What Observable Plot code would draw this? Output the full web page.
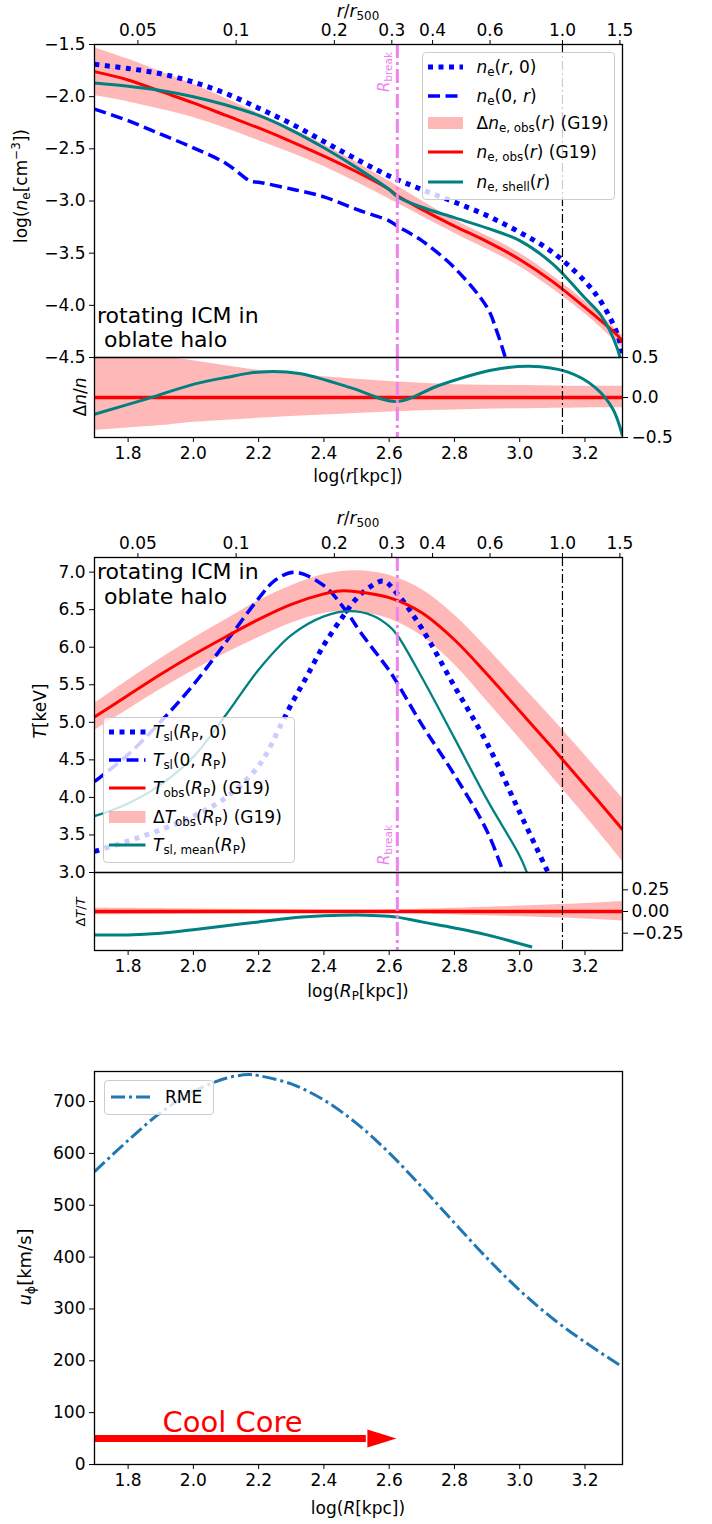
<!DOCTYPE html>
<html><head><meta charset="utf-8">
<script src="https://cdn.jsdelivr.net/npm/d3@7"></script>
<script src="https://cdn.jsdelivr.net/npm/@observablehq/plot@0.6"></script>
<style>
html,body{margin:0;padding:0;background:#fff;}
#fig{position:relative;width:712px;height:1524px;overflow:hidden;font-family:"DejaVu Sans",sans-serif;color:#000;}
#fig svg{position:absolute;left:0;overflow:visible;}
.lab{position:absolute;white-space:nowrap;line-height:1;font-family:"DejaVu Sans",sans-serif;}
.lab sub{font-size:70%;vertical-align:-0.3em;line-height:0;}
.lab sup{font-size:70%;vertical-align:0.55em;line-height:0;}
.lab i{font-style:italic;}
.box{position:absolute;background:rgba(255,255,255,0.8);border:1px solid #cccccc;border-radius:4px;box-sizing:border-box;}
.hd{position:absolute;}
</style></head>
<body><div id="fig"></div>
<script>
// ---------------- data ----------------
const xDomain = [1.697, 3.315];
const logR500 = 3.131;
const rBreak = 2.625;
const topTickValues = [0.05, 0.1, 0.2, 0.3, 0.4, 0.6, 1.0, 1.5];
const topTickLabels = ["0.05", "0.1", "0.2", "0.3", "0.4", "0.6", "1.0", "1.5"];
const bottomTicks = [1.8, 2.0, 2.2, 2.4, 2.6, 2.8, 3.0, 3.2];

// Panel 1: log n_e
const neTicks = [-4.5, -4.0, -3.5, -3.0, -2.5, -2.0, -1.5];
const neR0X = [1.697, 1.8, 1.9, 2.0, 2.1, 2.2, 2.3, 2.4, 2.5, 2.6, 2.7, 2.8, 2.9, 3.0, 3.1, 3.2, 3.25, 3.3, 3.315];
const neR0Y = [-1.69, -1.73, -1.78, -1.86, -1.97, -2.11, -2.26, -2.43, -2.60, -2.76, -2.89, -3.01, -3.14, -3.30, -3.49, -3.77, -3.97, -4.28, -4.48];
const ne0rX = [1.697, 1.8, 1.9, 2.0, 2.1, 2.175, 2.2, 2.3, 2.4, 2.5, 2.6, 2.625, 2.7, 2.8, 2.9, 2.93, 2.956];
const ne0rY = [-2.12, -2.23, -2.36, -2.49, -2.64, -2.81, -2.82, -2.885, -2.96, -3.08, -3.19, -3.24, -3.38, -3.64, -4.02, -4.25, -4.5];
const neObsX = [1.697, 1.8, 1.9, 2.0, 2.1, 2.2, 2.3, 2.4, 2.5, 2.6, 2.625, 2.7, 2.8, 2.9, 3.0, 3.1, 3.2, 3.3, 3.315];
const neObsY = [-1.76, -1.84, -1.95, -2.06, -2.18, -2.30, -2.43, -2.57, -2.72, -2.89, -2.95, -3.08, -3.24, -3.39, -3.56, -3.77, -4.02, -4.29, -4.35];
const neBandX = [1.697, 1.8, 1.9, 2.0, 2.2, 2.4, 2.6, 2.8, 3.0, 3.2, 3.315];
const neBandHi = [-1.53, -1.64, -1.76, -1.88, -2.16, -2.46, -2.81, -3.18, -3.50, -3.96, -4.29];
const neBandLo = [-1.99, -2.05, -2.12, -2.20, -2.42, -2.67, -2.98, -3.31, -3.63, -4.08, -4.41];
const neShellX = [1.697, 1.8, 1.9, 2.0, 2.1, 2.2, 2.3, 2.4, 2.5, 2.6, 2.625, 2.7, 2.8, 2.9, 3.0, 3.1, 3.2, 3.25, 3.3, 3.31];
const neShellY = [-1.87, -1.90, -1.94, -2.00, -2.08, -2.18, -2.32, -2.49, -2.68, -2.89, -2.96, -3.06, -3.16, -3.26, -3.38, -3.60, -3.93, -4.10, -4.42, -4.55];

// Panel 2: Δn/n
const dnTicks = [-0.5, 0.0, 0.5];
const dnBandX = [1.697, 1.8, 1.93, 2.0, 2.2, 2.4, 2.6, 2.8, 3.0, 3.2, 3.315];
const dnBandHi = [0.70, 0.60, 0.50, 0.46, 0.34, 0.26, 0.20, 0.16, 0.15, 0.14, 0.14];
const dnBandLo = [-0.41, -0.38, -0.34, -0.31, -0.26, -0.22, -0.18, -0.155, -0.14, -0.13, -0.13];
const dnShellX = [1.697, 1.855, 2.005, 2.1, 2.208, 2.325, 2.484, 2.625, 2.752, 2.912, 3.03, 3.146, 3.23, 3.285, 3.315];
const dnShellY = [-0.21, -0.02, 0.17, 0.25, 0.32, 0.30, 0.12, -0.05, 0.15, 0.34, 0.39, 0.32, 0.13, -0.14, -0.48];

// Panel 3: T [keV]
const tTicks = [3.0, 3.5, 4.0, 4.5, 5.0, 5.5, 6.0, 6.5, 7.0];
const tObsX = [1.697, 1.8, 1.9, 2.0, 2.1, 2.2, 2.3, 2.4, 2.45, 2.5, 2.6, 2.7, 2.8, 2.9, 3.0, 3.1, 3.2, 3.3, 3.315];
const tObsY = [5.07, 5.36, 5.64, 5.90, 6.14, 6.37, 6.57, 6.71, 6.75, 6.74, 6.66, 6.46, 6.10, 5.64, 5.15, 4.66, 4.16, 3.65, 3.57];
const tBandX = [1.697, 1.8, 1.9, 2.0, 2.1, 2.2, 2.3, 2.4, 2.5, 2.6, 2.7, 2.8, 2.9, 3.0, 3.1, 3.2, 3.315];
const tBandHi = [5.25, 5.56, 5.85, 6.12, 6.37, 6.62, 6.82, 6.97, 7.02, 6.96, 6.77, 6.43, 5.99, 5.52, 5.05, 4.56, 3.99];
const tBandLo = [4.89, 5.17, 5.44, 5.69, 5.92, 6.13, 6.32, 6.45, 6.47, 6.38, 6.15, 5.77, 5.28, 4.78, 4.27, 3.76, 3.15];
const tsl0RX = [1.697, 1.8, 1.9, 2.0, 2.1, 2.2, 2.25, 2.31, 2.4, 2.47, 2.512, 2.6, 2.625, 2.7, 2.8, 2.9, 2.95];
const tsl0RY = [4.21, 4.57, 5.01, 5.50, 6.07, 6.65, 6.89, 7.00, 6.82, 6.47, 6.20, 5.69, 5.52, 4.97, 4.30, 3.55, 3.0];
const tslR0X = [1.697, 1.8, 1.9, 2.0, 2.1, 2.2, 2.27, 2.3, 2.34, 2.4, 2.46, 2.5, 2.54, 2.583, 2.625, 2.7, 2.8, 2.9, 3.0, 3.087];
const tslR0Y = [3.28, 3.42, 3.57, 3.75, 4.00, 4.42, 4.98, 5.24, 5.55, 6.03, 6.42, 6.65, 6.80, 6.88, 6.71, 6.25, 5.48, 4.72, 3.80, 3.0];
const tMeanX = [1.697, 1.8, 1.9, 2.0, 2.1, 2.2, 2.3, 2.4, 2.48, 2.55, 2.6, 2.625, 2.7, 2.8, 2.9, 3.0, 3.022];
const tMeanY = [3.75, 3.92, 4.17, 4.54, 5.10, 5.70, 6.16, 6.41, 6.48, 6.42, 6.28, 6.16, 5.60, 4.79, 3.97, 3.22, 3.0];

// Panel 4: ΔT/T
const dtTicks = [-0.25, 0.0, 0.25];
const dtBandX = [1.697, 2.0, 2.3, 2.6, 2.9, 3.13, 3.315];
const dtBandHi = [0.04, 0.03, 0.02, 0.02, 0.05, 0.08, 0.115];
const dtBandLo = [-0.04, -0.03, -0.02, -0.02, -0.05, -0.075, -0.11];
const dtMeanX = [1.697, 1.8, 1.9, 2.0, 2.1, 2.2, 2.3, 2.4, 2.5, 2.6, 2.625, 2.7, 2.8, 2.9, 3.038];
const dtMeanY = [-0.27, -0.27, -0.25, -0.21, -0.165, -0.12, -0.075, -0.05, -0.04, -0.055, -0.065, -0.12, -0.19, -0.27, -0.41];

// Panel 5: u_phi
const uTicks = [0, 100, 200, 300, 400, 500, 600, 700];
const rmeX = [1.697, 1.8, 1.9, 2.0, 2.1, 2.17, 2.2, 2.3, 2.4, 2.5, 2.6, 2.7, 2.8, 2.9, 3.0, 3.1, 3.2, 3.315];
const rmeY = [565, 625, 679, 719, 745, 752, 750, 734, 703, 658, 601, 535, 466, 398, 336, 282, 236, 188];
const coolCoreX = [1.697, 2.53, 2.622]; // start, head base, tip
const coolCoreY = 50;
const coolCoreLabel = {x: 2.12, y: 80, text: "Cool Core"};

// ---------------- helpers ----------------
const rows = (xs, ys) => xs.map((x, i) => ({x, y: ys[i]}));
const band = (xs, lo, hi) => xs.map((x, i) => ({x, lo: lo[i], hi: hi[i]}));
const fig = document.getElementById("fig");
const BLUE = "#0000ff", RED = "#ff0000", TEAL = "#008080", VIOLET = "#ee82ee", RME = "#1f77b4";
const fmt1 = d3.format(".1f"), fmt2 = d3.format(".2f");

function addPlot([x0, y0, x1, y1], [pt, pb], yOpts, marks) {
  const svg = Plot.plot({
    width: 712, height: (y1 - y0) + pt + pb,
    marginLeft: x0, marginRight: 712 - x1, marginTop: pt, marginBottom: pb,
    x: {domain: xDomain, axis: null},
    y: {...yOpts, axis: null},
    style: {fontFamily: '"DejaVu Sans", sans-serif', fontSize: "17px", background: "transparent", overflow: "visible", color: "#000"},
    marks
  });
  svg.style.position = "absolute";
  svg.style.left = "0px";
  svg.style.top = (y0 - pt) + "px";
  fig.appendChild(svg);
  return svg;
}

function label(html, x, y, o = {}) {
  const d = document.createElement("div");
  d.className = "lab";
  d.innerHTML = html;
  d.style.left = x + "px";
  d.style.top = y + "px";
  d.style.fontSize = (o.size || 17) + "px";
  if (o.color) d.style.color = o.color;
  const ax = o.anchor === "start" ? "0%" : o.anchor === "end" ? "-100%" : "-50%";
  d.style.transform = `translate(${ax},-50%)` + (o.rotate ? ` rotate(${o.rotate}deg)` : "");
  fig.appendChild(d);
  return d;
}

function handle(style, x, cy, w) {
  const h = 16;
  const d = document.createElement("div");
  d.className = "hd";
  d.style.left = x + "px";
  d.style.top = (cy - h / 2) + "px";
  let inner;
  if (style.patch) {
    inner = `<rect x="0" y="${h / 2 - 6}" width="${w}" height="12" fill="${RED}" fill-opacity="0.28"/>`;
  } else {
    inner = `<line x1="0" x2="${w}" y1="${h / 2}" y2="${h / 2}" stroke="${style.stroke}" stroke-width="${style.strokeWidth}" stroke-dasharray="${style.strokeDasharray || "none"}" stroke-linecap="butt"/>`;
  }
  d.innerHTML = `<svg width="${w}" height="${h}" style="position:static;overflow:visible">${inner}</svg>`;
  fig.appendChild(d);
}

function legendBox(x0, y0, x1, y1) {
  const b = document.createElement("div");
  b.className = "box";
  b.style.left = x0 + "px"; b.style.top = y0 + "px";
  b.style.width = (x1 - x0) + "px"; b.style.height = (y1 - y0) + "px";
  fig.appendChild(b);
}

// line styles
const sDot = {stroke: BLUE, strokeWidth: 5, strokeDasharray: "5,5.5", strokeLinecap: "butt"};
const sDash = {stroke: BLUE, strokeWidth: 3.5, strokeDasharray: "12,5.5", strokeLinecap: "butt"};
const sRed = {stroke: RED, strokeWidth: 3, strokeLinecap: "butt"};
const sTeal = {stroke: TEAL, strokeWidth: 3, strokeLinecap: "butt"};
const sTealThin = {stroke: TEAL, strokeWidth: 2.3, strokeLinecap: "butt"};
const sRME = {stroke: RME, strokeWidth: 3, strokeDasharray: "14,4,3,4", strokeLinecap: "butt"};
const curve = "catmull-rom";

const topPos = topTickValues.map(v => Math.log10(v) + logR500);
const topFmt = new Map(topPos.map((p, i) => [p, topTickLabels[i]]));
const topAxis = () => Plot.axisX({anchor: "top", ticks: topPos, tickFormat: d => topFmt.get(d), tickSize: 5, tickPadding: 4, label: null});
const bottomAxis = () => Plot.axisX({anchor: "bottom", ticks: bottomTicks, tickFormat: fmt1, tickSize: 5, tickPadding: 4, label: null});
const vlines = () => [
  Plot.ruleX([rBreak], {stroke: VIOLET, strokeWidth: 3, strokeDasharray: "14,4,3,4"}),
  Plot.ruleX([logR500], {stroke: "#000", strokeWidth: 1.2, strokeDasharray: "9,3,2,3"})
];
const frame = () => Plot.frame({stroke: "#000", strokeWidth: 1.3});

// ---------------- Panel 1 ----------------
addPlot([94, 44, 622, 357], [44, 3], {domain: [-4.5, -1.5]}, [
  Plot.areaY(band(neBandX, neBandLo, neBandHi), {x: "x", y1: "lo", y2: "hi", fill: RED, fillOpacity: 0.28, curve, clip: true}),
  Plot.line(rows(neR0X, neR0Y), {x: "x", y: "y", ...sDot, curve, clip: true}),
  Plot.line(rows(ne0rX, ne0rY), {x: "x", y: "y", ...sDash, curve, clip: true}),
  Plot.line(rows(neObsX, neObsY), {x: "x", y: "y", ...sRed, curve, clip: true}),
  Plot.line(rows(neShellX, neShellY), {x: "x", y: "y", ...sTeal, curve, clip: true}),
  ...vlines(),
  Plot.axisY({anchor: "left", ticks: neTicks, tickFormat: fmt1, tickSize: 5, tickPadding: 4, label: null}),
  topAxis(),
  frame()
]);

// ---------------- Panel 2 ----------------
addPlot([94, 357, 622, 437], [3, 60], {domain: [-0.5, 0.5]}, [
  Plot.areaY(band(dnBandX, dnBandLo, dnBandHi), {x: "x", y1: "lo", y2: "hi", fill: RED, fillOpacity: 0.28, curve, clip: true}),
  Plot.ruleY([0], {stroke: RED, strokeWidth: 3.5}),
  Plot.line(rows(dnShellX, dnShellY), {x: "x", y: "y", ...sTeal, curve, clip: true}),
  ...vlines(),
  Plot.axisY({anchor: "right", ticks: dnTicks, tickFormat: fmt1, tickSize: 5, tickPadding: 4, label: null}),
  bottomAxis(),
  frame()
]);

// ---------------- Panel 3 ----------------
addPlot([94, 557, 622, 872], [44, 3], {domain: [3.0, 7.195]}, [
  Plot.areaY(band(tBandX, tBandLo, tBandHi), {x: "x", y1: "lo", y2: "hi", fill: RED, fillOpacity: 0.28, curve, clip: true}),
  Plot.line(rows(tslR0X, tslR0Y), {x: "x", y: "y", ...sDot, curve, clip: true}),
  Plot.line(rows(tsl0RX, tsl0RY), {x: "x", y: "y", ...sDash, curve, clip: true}),
  Plot.line(rows(tObsX, tObsY), {x: "x", y: "y", ...sRed, curve, clip: true}),
  Plot.line(rows(tMeanX, tMeanY), {x: "x", y: "y", ...sTealThin, curve, clip: true}),
  ...vlines(),
  Plot.axisY({anchor: "left", ticks: tTicks, tickFormat: fmt1, tickSize: 5, tickPadding: 4, label: null}),
  topAxis(),
  frame()
]);

// ---------------- Panel 4 ----------------
addPlot([94, 872, 622, 950], [3, 60], {domain: [-0.45, 0.45]}, [
  Plot.areaY(band(dtBandX, dtBandLo, dtBandHi), {x: "x", y1: "lo", y2: "hi", fill: RED, fillOpacity: 0.28, curve, clip: true}),
  Plot.ruleY([0], {stroke: RED, strokeWidth: 3.5}),
  Plot.line(rows(dtMeanX, dtMeanY), {x: "x", y: "y", ...sTeal, curve, clip: true}),
  ...vlines(),
  Plot.axisY({anchor: "right", ticks: dtTicks, tickFormat: fmt2, tickSize: 5, tickPadding: 4, label: null}),
  bottomAxis(),
  frame()
]);

// ---------------- Panel 5 ----------------
const arrowHead = {draw(ctx) { ctx.moveTo(0, 0); ctx.lineTo(-29, -9); ctx.lineTo(-29, 9); ctx.closePath(); }};
addPlot([94, 1071, 622, 1464], [5, 58], {domain: [0, 758]}, [
  Plot.line(rows(rmeX, rmeY), {x: "x", y: "y", ...sRME, curve, clip: true}),
  Plot.ruleY([coolCoreY], {x1: coolCoreX[0], x2: coolCoreX[1], stroke: RED, strokeWidth: 7}),
  Plot.dot([{x: coolCoreX[2], y: coolCoreY}], {x: "x", y: "y", r: 5, symbol: arrowHead, fill: RED, stroke: "none"}),
  Plot.text([coolCoreLabel], {x: "x", y: "y", text: "text", fill: RED, fontSize: 29, textAnchor: "middle"}),
  Plot.axisY({anchor: "left", ticks: uTicks, tickFormat: d3.format("d"), tickSize: 5, tickPadding: 4, label: null}),
  bottomAxis(),
  frame()
]);

// ---------------- labels ----------------
label(`<i>r</i>/<i>r</i><sub>500</sub>`, 358, 11);
label(`<i>r</i>/<i>r</i><sub>500</sub>`, 358, 518);
label(`log(<i>n</i><sub>e</sub>[cm<sup>−3</sup>])`, 21, 186, {rotate: -90});
label(`Δ<i>n</i>/<i>n</i>`, 80, 397, {rotate: -90});
label(`log(<i>r</i>[kpc])`, 358, 476);
label(`<i>T</i>[keV]`, 40, 711, {rotate: -90});
label(`Δ<i>T</i>/<i>T</i>`, 80, 912, {rotate: -90, size: 13});
label(`log(<i>R</i><sub>P</sub>[kpc])`, 358, 991);
label(`<i>u</i><sub>ϕ</sub>[km/s]`, 25, 1267, {rotate: -90, size: 18});
label(`log(<i>R</i>[kpc])`, 358, 1508);
label(`<i>R</i><sub>break</sub>`, 384, 72, {rotate: -90, size: 15, color: VIOLET});
label(`<i>R</i><sub>break</sub>`, 384, 845, {rotate: -90, size: 15, color: VIOLET});
label(`rotating ICM in`, 97, 316, {anchor: "start", size: 22});
label(`&nbsp;oblate halo`, 97, 340, {anchor: "start", size: 22});
label(`rotating ICM in`, 97, 572, {anchor: "start", size: 22});
label(`&nbsp;oblate halo`, 97, 597, {anchor: "start", size: 22});

// ---------------- legends ----------------
legendBox(421.7, 51.7, 615, 200);
const leg1 = [
  [sDot, `<i>n</i><sub>e</sub>(<i>r</i>, 0)`],
  [sDash, `<i>n</i><sub>e</sub>(0, <i>r</i>)`],
  [{patch: true}, `Δ<i>n</i><sub>e, obs</sub>(<i>r</i>) (G19)`],
  [sRed, `<i>n</i><sub>e, obs</sub>(<i>r</i>) (G19)`],
  [sTeal, `<i>n</i><sub>e, shell</sub>(<i>r</i>)`]
];
const leg1Y = [66.5, 95.5, 123, 152, 181.5];
leg1.forEach(([s, t], i) => { handle(s, 428, leg1Y[i], 35); label(t, 476.5, leg1Y[i], {anchor: "start"}); });

legendBox(103.3, 716.7, 295, 863.3);
const leg3 = [
  [sDot, `<i>T</i><sub>sl</sub>(<i>R</i><sub>P</sub>, 0)`],
  [sDash, `<i>T</i><sub>sl</sub>(0, <i>R</i><sub>P</sub>)`],
  [sRed, `<i>T</i><sub>obs</sub>(<i>R</i><sub>P</sub>) (G19)`],
  [{patch: true}, `Δ<i>T</i><sub>obs</sub>(<i>R</i><sub>P</sub>) (G19)`],
  [sTeal, `<i>T</i><sub>sl, mean</sub>(<i>R</i><sub>P</sub>)`]
];
const leg3Y = [731.7, 760, 788, 816.5, 845];
leg3.forEach(([s, t], i) => { handle(s, 108.5, leg3Y[i], 36.5); label(t, 153, leg3Y[i], {anchor: "start"}); });

legendBox(104, 1080, 214, 1115);
handle(sRME, 111, 1097, 40);
label(`RME`, 165, 1097, {anchor: "start"});
</script></body></html>
